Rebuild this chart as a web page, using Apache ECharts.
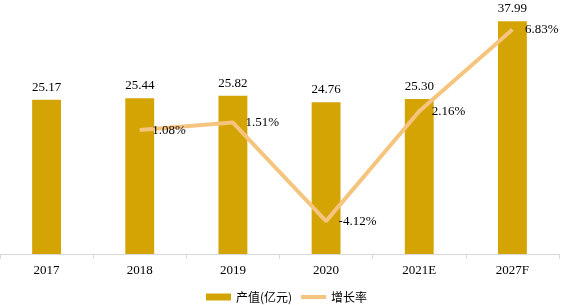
<!DOCTYPE html>
<html><head><meta charset="utf-8">
<script src="https://cdn.jsdelivr.net/npm/echarts@6/dist/echarts.min.js"></script>
<style>html,body{margin:0;padding:0;background:#fff}#c{width:567px;height:305px}</style>
</head><body><div id="c"></div>
<script>
var categories = ['2017','2018','2019','2020','2021E','2027F'];
var outputValues = [25.17, 25.44, 25.82, 24.76, 25.30, 37.99];
var growthRates = [null, 1.08, 1.51, -4.12, 2.16, 6.83];
var chart = echarts.init(document.getElementById('c'));
var serif = '"Liberation Serif","Times New Roman",serif';
chart.setOption({
  animation: false,
  grid: {left: -8, right: 8, top: 9, bottom: 51, containLabel: false},
  legend: {
    top: 286, left: 201, itemWidth: 25, itemHeight: 7, itemGap: 7,
    textStyle: {fontFamily: '"Noto Sans CJK SC",' + serif, fontSize: 12, color: '#000'},
    data: [
      {name: '产值(亿元)', icon: 'rect'},
      {name: '增长率', itemStyle: {opacity: 0}, lineStyle: {width: 4, color: '#F5C47E'}}
    ]
  },
  xAxis: {
    type: 'category', data: categories,
    axisLine: {show: true, lineStyle: {color: '#d9d9d9'}},
    axisTick: {show: true, lineStyle: {color: '#d9d9d9'}},
    axisLabel: {color: '#000', fontFamily: serif, fontSize: 13, margin: 10}
  },
  yAxis: [
    {type: 'value', min: 0, max: 40, show: false},
    {type: 'value', min: -6, max: 8, show: false}
  ],
  series: [
    {
      name: '产值(亿元)', type: 'bar', data: outputValues, barWidth: '31%',
      itemStyle: {color: '#D4A404'},
      label: {show: true, position: 'top', distance: 6, color: '#000', fontFamily: serif, fontSize: 13,
        formatter: function(p){return p.value.toFixed(2);}}
    },
    {
      name: '增长率', type: 'line', yAxisIndex: 1, data: growthRates,
      symbol: 'circle', symbolSize: 1, showSymbol: true, connectNulls: false,
      lineStyle: {color: '#F5C47E', width: 4},
      itemStyle: {color: 'rgba(245,196,126,0)'},
      label: {show: true, position: 'right', distance: 12, color: '#000', fontFamily: serif, fontSize: 13,
        formatter: function(p){return p.value.toFixed(2) + '%';}}
    }
  ]
});
</script></body></html>
